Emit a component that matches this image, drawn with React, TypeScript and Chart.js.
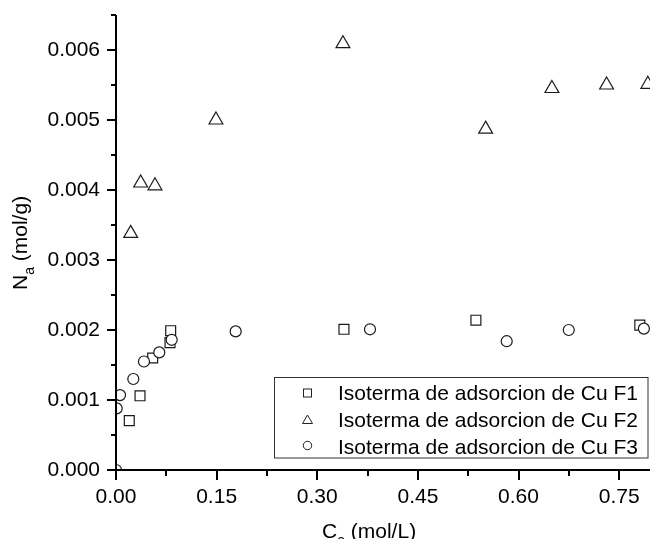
import { useEffect, useRef } from "react";
import { Chart, registerables, ScatterController } from "chart.js";

Chart.register(...registerables);
// keep the plot area flush with the canvas edge (markers are clipped like the original)
(ScatterController.prototype as any).getMaxOverflow = function () {
  return 0;
};

const FONT = "'Liberation Sans', Arial, Helvetica, sans-serif";

const seriesLabels = [
  "Isoterma de adsorcion de Cu F1",
  "Isoterma de adsorcion de Cu F2",
  "Isoterma de adsorcion de Cu F3",
];

// F1 (squares)
const f1X = [0.0198, 0.0358, 0.0547, 0.0815, 0.0805, 0.3398, 0.5365, 0.7808];
const f1Y = [0.000705, 0.00106, 0.0016, 0.00199, 0.00182, 0.00201, 0.00214, 0.00207];

// F2 (triangles)
const f2X = [0.0219, 0.0368, 0.0581, 0.149, 0.3383, 0.551, 0.6498, 0.7313, 0.7928];
const f2Y = [0.00338, 0.0041, 0.00406, 0.005, 0.00609, 0.00487, 0.00545, 0.0055, 0.00551];

// F3 (circles)
const f3X = [0.0, 0.001, 0.006, 0.0258, 0.0417, 0.0645, 0.083, 0.1784, 0.3786, 0.5824, 0.6749, 0.7869];
const f3Y = [0.0, 0.00088, 0.00107, 0.0013, 0.00155, 0.00168, 0.00186, 0.00198, 0.00201, 0.00184, 0.002, 0.00202];

const xMin = 0;
const xMax = 0.796;
const xStep = 0.15;
const xMinorStep = 0.075;
const yMin = 0;
const yMax = 0.0065;
const yStep = 0.001;
const yMinorStep = 0.0005;

const xTitleMain = "C";
const xTitleSub = "e";
const xTitleRest = " (mol/L)";
const yTitleMain = "N";
const yTitleSub = "a";
const yTitleRest = " (mol/g)";

const decorPlugin = {
  id: "decor",
  afterDraw(chart: any) {
    const ctx: CanvasRenderingContext2D = chart.ctx;
    const { left, right, top, bottom } = chart.chartArea;
    const xs = chart.scales.x;
    const ys = chart.scales.y;
    ctx.save();
    ctx.strokeStyle = "#000";
    ctx.lineWidth = 2;
    ctx.beginPath();
    ctx.moveTo(left, top);
    ctx.lineTo(left, bottom + 1);
    ctx.moveTo(left - 1, bottom);
    ctx.lineTo(right, bottom);
    for (let i = 0; ; i++) {
      const v = xMin + i * xMinorStep;
      if (v > xMax + 1e-9) break;
      const px = Math.round(xs.getPixelForValue(v));
      const major = i % 2 === 0;
      ctx.moveTo(px, bottom);
      ctx.lineTo(px, bottom + (major ? 10 : 6));
    }
    for (let i = 0; ; i++) {
      const v = yMin + i * yMinorStep;
      if (v > yMax + 1e-12) break;
      const py = Math.round(ys.getPixelForValue(v));
      const major = i % 2 === 0;
      ctx.moveTo(left, py);
      ctx.lineTo(left - (major ? 9 : 5), py);
    }
    ctx.stroke();

    ctx.fillStyle = "#000";
    ctx.textBaseline = "alphabetic";
    ctx.textAlign = "left";
    let x = 322;
    const xb = 537.5;
    ctx.font = `21px ${FONT}`;
    ctx.fillText(xTitleMain, x, xb);
    x += ctx.measureText(xTitleMain).width;
    ctx.font = `14px ${FONT}`;
    ctx.fillText(xTitleSub, x, xb + 7);
    x += ctx.measureText(xTitleSub).width;
    ctx.font = `21px ${FONT}`;
    ctx.fillText(xTitleRest, x, xb);

    ctx.save();
    ctx.translate(26.5, 290);
    ctx.rotate(-Math.PI / 2);
    let t = 0;
    ctx.font = `21px ${FONT}`;
    ctx.fillText(yTitleMain, t, 0);
    t += ctx.measureText(yTitleMain).width;
    ctx.font = `14px ${FONT}`;
    ctx.fillText(yTitleSub, t, 7);
    t += ctx.measureText(yTitleSub).width;
    ctx.font = `21px ${FONT}`;
    ctx.fillText(yTitleRest, t, 0);
    ctx.restore();

    const bx = 274.5, by = 377.5, bw = 373.5, bh = 80.5;
    ctx.fillStyle = "#fff";
    ctx.fillRect(bx, by, bw, bh);
    ctx.lineWidth = 1;
    ctx.strokeStyle = "#333";
    ctx.strokeRect(bx, by, bw, bh);
    const rowBase = [400, 427, 453.5];
    const rowCenter = [393, 420, 445.5];
    const mx = 307.5;
    ctx.strokeStyle = "#222";
    ctx.strokeRect(mx - 4, rowCenter[0] - 4, 8, 8);
    ctx.beginPath();
    ctx.moveTo(mx, rowCenter[1] - 5);
    ctx.lineTo(mx + 5, rowCenter[1] + 3.5);
    ctx.lineTo(mx - 5, rowCenter[1] + 3.5);
    ctx.closePath();
    ctx.stroke();
    ctx.beginPath();
    ctx.arc(mx, rowCenter[2], 4.2, 0, Math.PI * 2);
    ctx.stroke();
    ctx.fillStyle = "#000";
    ctx.font = `21px ${FONT}`;
    seriesLabels.forEach((lab, i) => ctx.fillText(lab, 338, rowBase[i]));
    ctx.restore();
  },
};

function toPoints(xsArr: number[], ysArr: number[]) {
  return xsArr.map((x, i) => ({ x, y: ysArr[i] }));
}

export default function App() {
  const ref = useRef<HTMLCanvasElement | null>(null);
  useEffect(() => {
    if (!ref.current) return;
    const common = {
      borderColor: "#1a1a1a",
      backgroundColor: "#ffffff",
      borderWidth: 1.2,
      showLine: false,
    };
    const chart = new Chart(ref.current, {
      type: "scatter",
      data: {
        datasets: [
          { ...common, label: seriesLabels[0], data: toPoints(f1X, f1Y), pointStyle: "rect", pointRadius: 7, order: 2 },
          { ...common, label: seriesLabels[1], data: toPoints(f2X, f2Y), pointStyle: "triangle", pointRadius: 8, order: 1 },
          { ...common, label: seriesLabels[2], data: toPoints(f3X, f3Y), pointStyle: "circle", pointRadius: 5.5, order: 0 },
        ],
      },
      options: {
        responsive: false,
        animation: false,
        devicePixelRatio: 1,
        events: [],
        layout: { padding: { top: 15, right: 0, left: 0, bottom: 0 } },
        plugins: { legend: { display: false }, tooltip: { enabled: false } },
        scales: {
          x: {
            type: "linear",
            min: xMin,
            max: xMax,
            afterFit: (s: any) => {
              s.height = 69;
              s.paddingLeft = 0;
              s.paddingRight = 0;
              s.paddingTop = 0;
              s.paddingBottom = 0;
            },
            grid: { display: false, drawTicks: false },
            border: { display: false },
            ticks: {
              stepSize: xStep,
              includeBounds: false,
              padding: 15,
              color: "#000",
              maxRotation: 0,
              autoSkip: false,
              font: { family: FONT, size: 21 },
              callback: (v: any) => Number(v).toFixed(2),
            },
          },
          y: {
            type: "linear",
            min: yMin,
            max: yMax,
            afterFit: (s: any) => {
              s.width = 116;
              s.paddingLeft = 0;
              s.paddingRight = 0;
              s.paddingTop = 0;
              s.paddingBottom = 0;
            },
            grid: { display: false, drawTicks: false },
            border: { display: false },
            ticks: {
              stepSize: yStep,
              includeBounds: false,
              padding: 16,
              color: "#000",
              autoSkip: false,
              font: { family: FONT, size: 21 },
              callback: (v: any) => Number(v).toFixed(3),
            },
          },
        },
      } as any,
      plugins: [decorPlugin],
    });
    return () => chart.destroy();
  }, []);
  return (
    <div style={{ position: "fixed", left: 0, top: 0, width: 650, height: 539, background: "#fff" }}>
      <canvas ref={ref} width={650} height={539} style={{ display: "block", width: 650, height: 539 }} />
    </div>
  );
}
